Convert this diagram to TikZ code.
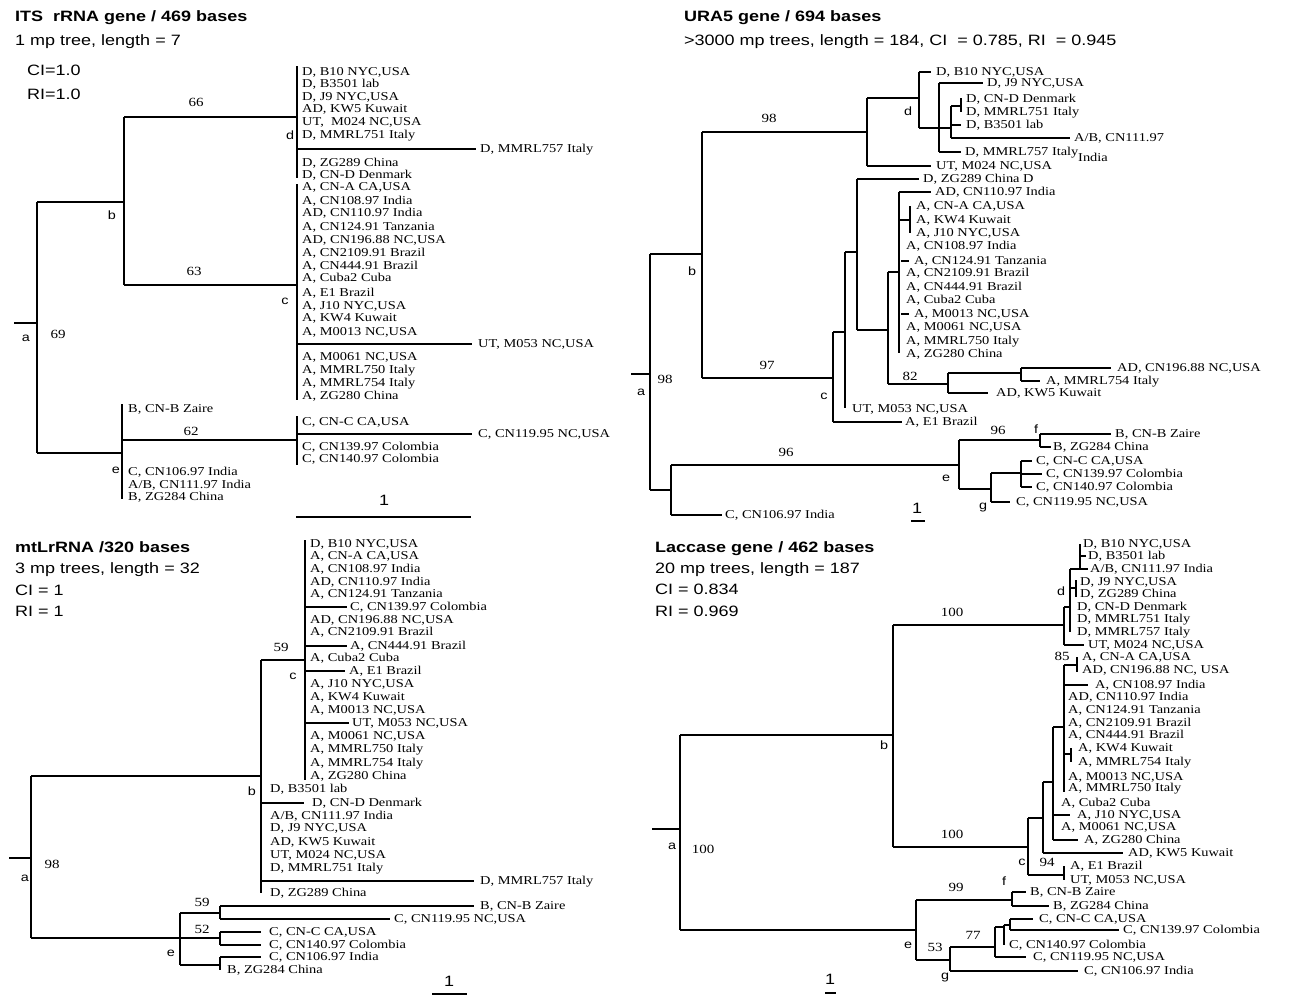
\documentclass[tikz,border=0pt]{standalone}
\usepackage{fontspec}
\setmainfont[FakeStretch=1.2]{Liberation Serif}
\setsansfont[FakeStretch=1.2]{Liberation Sans}
\usetikzlibrary{positioning}

\begin{document}
\begin{tikzpicture}[
    x=1pt, y=-1pt,
    br/.style={line width=1.8pt},
    leaf/.style={
        font=\fontsize{12}{13}\selectfont,
        anchor=west, inner sep=0pt,
        text height=0.66em, text depth=0pt
    },
    bs/.style={
        font=\fontsize{12.5}{13}\selectfont,
        inner sep=0pt, text height=0.66em, text depth=0pt
    },
    nl/.style={
        font=\sffamily\fontsize{12}{13}\selectfont,
        inner sep=0pt, text height=0.5em, text depth=0pt
    },
    head/.style={
        font=\sffamily\bfseries\fontsize{15}{15}\selectfont,
        anchor=west, inner sep=0pt, text height=0.72em, text depth=0pt
    },
    info/.style={
        font=\sffamily\fontsize{15}{15}\selectfont,
        anchor=west, inner sep=0pt, text height=0.72em, text depth=0pt
    }
]
\useasboundingbox (0,0) rectangle (1289,997);

% ============ ITS rRNA (top left) ============
\node[head] (ihead) at (15,18) {ITS\ \ rRNA gene / 469 bases};
\node[info] (iinfo) at (15,42) {1 mp tree, length = 7};
\node[info] (ici) at (27,72) {CI=1.0};
\node[info] (iri) at (27,96) {RI=1.0};

% Branches
\draw[br] (14,323) -- (37,323);
\draw[br] (37,202) -- (37,453);
\draw[br] (37,202) -- (124,202);
\draw[br] (124,117) -- (124,285);
\draw[br] (124,117) -- (297,117);
\draw[br] (297,66) -- (297,178);
\draw[br] (297,149) -- (476,149);
\draw[br] (124,285) -- (297,285);
\draw[br] (297,184) -- (297,400);
\draw[br] (297,344) -- (472,344);
\draw[br] (37,453) -- (122,453);
\draw[br] (122,404) -- (122,499);
\draw[br] (122,440) -- (297,440);
\draw[br] (297,416) -- (297,465);
\draw[br] (297,434) -- (472,434);

% Support values and node letters
\node[bs] (i66) at (196,103) {66};
\node[bs] (i63) at (194,272) {63};
\node[bs] (i62) at (191,432) {62};
\node[bs] (i69) at (58,335) {69};
\node[nl] (ia) at (26,339) {a};
\node[nl] (ib) at (112,217) {b};
\node[nl] (ic) at (285,302) {c};
\node[nl] (id) at (290,137) {d};
\node[nl] (ie) at (116,471) {e};

% Leaves - d group
\node[leaf] (i1) at (302,72) {D, B10 NYC,USA};
\node[leaf] (i2) at (302,84) {D, B3501 lab};
\node[leaf] (i3) at (302,97) {D, J9 NYC,USA};
\node[leaf] (i4) at (302,109) {AD, KW5 Kuwait};
\node[leaf] (i5) at (302,122) {UT,\ \ M024 NC,USA};
\node[leaf] (i6) at (302,135) {D, MMRL751 Italy};
\node[leaf] (i7) at (480,149) {D, MMRL757 Italy};
\node[leaf] (i8) at (302,163) {D, ZG289 China};
\node[leaf] (i9) at (302,175) {D, CN-D Denmark};

% Leaves - c group
\node[leaf] (i10) at (302,187) {A, CN-A CA,USA};
\node[leaf] (i11) at (302,201) {A, CN108.97 India};
\node[leaf] (i12) at (302,213) {AD, CN110.97 India};
\node[leaf] (i13) at (302,227) {A, CN124.91 Tanzania};
\node[leaf] (i14) at (302,240) {AD, CN196.88 NC,USA};
\node[leaf] (i15) at (302,253) {A, CN2109.91 Brazil};
\node[leaf] (i16) at (302,266) {A, CN444.91 Brazil};
\node[leaf] (i17) at (302,278) {A, Cuba2 Cuba};
\node[leaf] (i18) at (302,293) {A, E1 Brazil};
\node[leaf] (i19) at (302,306) {A, J10 NYC,USA};
\node[leaf] (i20) at (302,318) {A, KW4 Kuwait};
\node[leaf] (i21) at (302,332) {A, M0013 NC,USA};
\node[leaf] (i22) at (478,344) {UT, M053 NC,USA};
\node[leaf] (i23) at (302,357) {A, M0061 NC,USA};
\node[leaf] (i24) at (302,370) {A, MMRL750 Italy};
\node[leaf] (i25) at (302,383) {A, MMRL754 Italy};
\node[leaf] (i26) at (302,396) {A, ZG280 China};

% Leaves - e group
\node[leaf] (i27) at (128,409) {B, CN-B Zaire};
\node[leaf] (i28) at (302,422) {C, CN-C CA,USA};
\node[leaf] (i29) at (478,434) {C, CN119.95 NC,USA};
\node[leaf] (i30) at (302,447) {C, CN139.97 Colombia};
\node[leaf] (i31) at (302,459) {C, CN140.97 Colombia};
\node[leaf] (i32) at (128,472) {C, CN106.97 India};
\node[leaf] (i33) at (128,485) {A/B, CN111.97 India};
\node[leaf] (i34) at (128,497) {B, ZG284 China};

% Scale bar
\draw[br] (296,517) -- (471,517);
\node[info] (iscale) at (379,502) {1};

% ============ URA5 (top right) ============
\node[head] (uhead) at (684,18) {URA5 gene / 694 bases};
\node[info] (uinfo) at (684,42) {>3000 mp trees, length = 184, CI\ \ = 0.785, RI\ \ = 0.945};

% Branches - root and b
\draw[br] (631,374) -- (650,374);
\draw[br] (650,254) -- (650,490);
\draw[br] (650,254) -- (702,254);
\draw[br] (702,132) -- (702,378);
\draw[br] (702,132) -- (867,132);
\draw[br] (867,98) -- (867,166);
\draw[br] (867,166) -- (931,166);

% Branches - d clade
\draw[br] (867,98) -- (919,98);
\draw[br] (919,72) -- (919,128);
\draw[br] (919,72) -- (931,72);
\draw[br] (919,128) -- (951,128);
\draw[br] (939,83) -- (939,152);
\draw[br] (939,83) -- (983,83);
\draw[br] (939,152) -- (961,152);
\draw[br] (951,106) -- (951,138);
\draw[br] (951,106) -- (961,106);
\draw[br] (961,98) -- (961,112);
\draw[br] (951,125) -- (961,125);
\draw[br] (951,138) -- (1070,138);

% Branches - c clade
\draw[br] (702,378) -- (833,378);
\draw[br] (833,332) -- (833,422);
\draw[br] (833,422) -- (902,422);
\draw[br] (833,332) -- (845,332);
\draw[br] (845,252) -- (845,408);
\draw[br] (845,252) -- (857,252);
\draw[br] (857,179) -- (857,330);
\draw[br] (857,179) -- (919,179);
\draw[br] (857,330) -- (888,330);
\draw[br] (888,272) -- (888,384);
\draw[br] (888,272) -- (899,272);
\draw[br] (899,192) -- (899,353);
\draw[br] (899,192) -- (931,192);
\draw[br] (899,220) -- (910,220);
\draw[br] (910,206) -- (910,233);
\draw[br] (901,261) -- (909,261);
\draw[br] (901,314) -- (909,314);
\draw[br] (888,384) -- (948,384);
\draw[br] (948,373) -- (948,393);
\draw[br] (948,373) -- (1021,373);
\draw[br] (1021,368) -- (1021,381);
\draw[br] (1021,368) -- (1111,368);
\draw[br] (1021,381) -- (1040,381);
\draw[br] (948,393) -- (988,393);

% Branches - e clade
\draw[br] (650,490) -- (671,490);
\draw[br] (671,465) -- (671,515);
\draw[br] (671,465) -- (959,465);
\draw[br] (671,515) -- (722,515);
\draw[br] (959,440) -- (959,489);
\draw[br] (959,440) -- (1040,440);
\draw[br] (1040,434) -- (1040,447);
\draw[br] (1040,434) -- (1111,434);
\draw[br] (1040,447) -- (1051,447);
\draw[br] (959,489) -- (991,489);
\draw[br] (991,473) -- (991,502);
\draw[br] (991,473) -- (1021,473);
\draw[br] (1021,461) -- (1021,487);
\draw[br] (1021,461) -- (1032,461);
\draw[br] (1021,474) -- (1042,474);
\draw[br] (1021,487) -- (1032,487);
\draw[br] (991,502) -- (1010,502);

% Support values and node letters
\node[bs] (u98a) at (769,119) {98};
\node[bs] (u97) at (767,366) {97};
\node[bs] (u82) at (910,377) {82};
\node[bs] (u98b) at (665,380) {98};
\node[bs] (u96a) at (786,453) {96};
\node[bs] (u96b) at (998,431) {96};
\node[nl] (ua) at (641,393) {a};
\node[nl] (ub) at (692,273) {b};
\node[nl] (uc) at (824,397) {c};
\node[nl] (ud) at (908,113) {d};
\node[nl] (ue) at (946,479) {e};
\node[nl] (uf) at (1036,431) {f};
\node[nl] (ug) at (983,507) {g};

% Leaves
\node[leaf] (u1) at (936,72) {D, B10 NYC,USA};
\node[leaf] (u2) at (987,83) {D, J9 NYC,USA};
\node[leaf] (u3) at (966,99) {D, CN-D Denmark};
\node[leaf] (u4) at (966,112) {D, MMRL751 Italy};
\node[leaf] (u5) at (966,125) {D, B3501 lab};
\node[leaf] (u6) at (1074,138) {A/B, CN111.97};
\node[leaf] (u7) at (965,152) {D, MMRL757 Italy};
\node[leaf] (u8) at (1078,158) {India};
\node[leaf] (u9) at (936,166) {UT, M024 NC,USA};
\node[leaf] (u10) at (923,179) {D, ZG289 China D};
\node[leaf] (u11) at (935,192) {AD, CN110.97 India};
\node[leaf] (u12) at (916,206) {A, CN-A CA,USA};
\node[leaf] (u13) at (916,220) {A, KW4 Kuwait};
\node[leaf] (u14) at (916,233) {A, J10 NYC,USA};
\node[leaf] (u15) at (906,246) {A, CN108.97 India};
\node[leaf] (u16) at (914,261) {A, CN124.91 Tanzania};
\node[leaf] (u17) at (906,273) {A, CN2109.91 Brazil};
\node[leaf] (u18) at (906,287) {A, CN444.91 Brazil};
\node[leaf] (u19) at (906,300) {A, Cuba2 Cuba};
\node[leaf] (u20) at (914,314) {A, M0013 NC,USA};
\node[leaf] (u21) at (906,327) {A, M0061 NC,USA};
\node[leaf] (u22) at (906,341) {A, MMRL750 Italy};
\node[leaf] (u23) at (906,354) {A, ZG280 China};
\node[leaf] (u24) at (1117,368) {AD, CN196.88 NC,USA};
\node[leaf] (u25) at (1046,381) {A, MMRL754 Italy};
\node[leaf] (u26) at (996,393) {AD, KW5 Kuwait};
\node[leaf] (u27) at (852,409) {UT, M053 NC,USA};
\node[leaf] (u28) at (905,422) {A, E1 Brazil};
\node[leaf] (u29) at (1115,434) {B, CN-B Zaire};
\node[leaf] (u30) at (1053,447) {B, ZG284 China};
\node[leaf] (u31) at (1036,461) {C, CN-C CA,USA};
\node[leaf] (u32) at (1046,474) {C, CN139.97 Colombia};
\node[leaf] (u33) at (1036,487) {C, CN140.97 Colombia};
\node[leaf] (u34) at (1016,502) {C, CN119.95 NC,USA};
\node[leaf] (u35) at (725,515) {C, CN106.97 India};

% Scale bar
\draw[br] (911,521) -- (925,521);
\node[info] (uscale) at (912,510) {1};

% ============ mtLrRNA (bottom left) ============
\node[head] (mhead) at (15,549) {mtLrRNA /320 bases};
\node[info] (minfo) at (15,570) {3 mp trees, length = 32};
\node[info] (mci) at (15,592) {CI = 1};
\node[info] (mri) at (15,613) {RI = 1};

% Branches
\draw[br] (9,858) -- (31,858);
\draw[br] (31,776) -- (31,938);
\draw[br] (31,776) -- (261,776);
\draw[br] (261,660) -- (261,893);
\draw[br] (261,660) -- (305,660);
\draw[br] (305,540) -- (305,780);
\draw[br] (305,607) -- (347,607);
\draw[br] (305,646) -- (347,646);
\draw[br] (305,671) -- (345,671);
\draw[br] (305,723) -- (349,723);
\draw[br] (261,803) -- (304,803);
\draw[br] (261,881) -- (474,881);
\draw[br] (31,938) -- (220,938);
\draw[br] (180,913) -- (180,965);
\draw[br] (180,913) -- (220,913);
\draw[br] (220,906) -- (220,919);
\draw[br] (220,906) -- (474,906);
\draw[br] (220,919) -- (390,919);
\draw[br] (220,932) -- (220,945);
\draw[br] (220,932) -- (261,932);
\draw[br] (220,945) -- (261,945);
\draw[br] (180,965) -- (220,965);
\draw[br] (220,957) -- (220,970);
\draw[br] (220,957) -- (261,957);

% Support values and node letters
\node[bs] (m59a) at (281,648) {59};
\node[bs] (m98) at (52,865) {98};
\node[bs] (m59b) at (202,903) {59};
\node[bs] (m52) at (202,930) {52};
\node[nl] (ma) at (25,879) {a};
\node[nl] (mb) at (252,793) {b};
\node[nl] (mc) at (293,677) {c};
\node[nl] (me) at (171,954) {e};

% Leaves - c group
\node[leaf] (m1) at (310,544) {D, B10 NYC,USA};
\node[leaf] (m2) at (310,556) {A, CN-A CA,USA};
\node[leaf] (m3) at (310,569) {A, CN108.97 India};
\node[leaf] (m4) at (310,582) {AD, CN110.97 India};
\node[leaf] (m5) at (310,594) {A, CN124.91 Tanzania};
\node[leaf] (m6) at (350,607) {C, CN139.97 Colombia};
\node[leaf] (m7) at (310,620) {AD, CN196.88 NC,USA};
\node[leaf] (m8) at (310,632) {A, CN2109.91 Brazil};
\node[leaf] (m9) at (350,646) {A, CN444.91 Brazil};
\node[leaf] (m10) at (310,658) {A, Cuba2 Cuba};
\node[leaf] (m11) at (349,671) {A, E1 Brazil};
\node[leaf] (m12) at (310,684) {A, J10 NYC,USA};
\node[leaf] (m13) at (310,697) {A, KW4 Kuwait};
\node[leaf] (m14) at (310,710) {A, M0013 NC,USA};
\node[leaf] (m15) at (352,723) {UT, M053 NC,USA};
\node[leaf] (m16) at (310,736) {A, M0061 NC,USA};
\node[leaf] (m17) at (310,749) {A, MMRL750 Italy};
\node[leaf] (m18) at (310,763) {A, MMRL754 Italy};
\node[leaf] (m19) at (310,776) {A, ZG280 China};

% Leaves - b group
\node[leaf] (m20) at (270,789) {D, B3501 lab};
\node[leaf] (m21) at (312,803) {D, CN-D Denmark};
\node[leaf] (m22) at (270,816) {A/B, CN111.97 India};
\node[leaf] (m23) at (270,828) {D, J9 NYC,USA};
\node[leaf] (m24) at (270,842) {AD, KW5 Kuwait};
\node[leaf] (m25) at (270,855) {UT, M024 NC,USA};
\node[leaf] (m26) at (270,868) {D, MMRL751 Italy};
\node[leaf] (m27) at (480,881) {D, MMRL757 Italy};
\node[leaf] (m28) at (270,893) {D, ZG289 China};

% Leaves - e group
\node[leaf] (m29) at (480,906) {B, CN-B Zaire};
\node[leaf] (m30) at (394,919) {C, CN119.95 NC,USA};
\node[leaf] (m31) at (269,932) {C, CN-C CA,USA};
\node[leaf] (m32) at (269,945) {C, CN140.97 Colombia};
\node[leaf] (m33) at (269,957) {C, CN106.97 India};
\node[leaf] (m34) at (227,970) {B, ZG284 China};

% Scale bar
\draw[br] (432,994) -- (467,994);
\node[info] (mscale) at (444,983) {1};

% ============ Laccase (bottom right) ============
\node[head] (lhead) at (655,549) {Laccase gene / 462 bases};
\node[info] (linfo) at (655,570) {20 mp trees, length = 187};
\node[info] (lci) at (655,591) {CI = 0.834};
\node[info] (lri) at (655,613) {RI = 0.969};

% Branches - root and b
\draw[br] (652,829) -- (680,829);
\draw[br] (680,735) -- (680,930);
\draw[br] (680,735) -- (893,735);
\draw[br] (893,625) -- (893,847);
\draw[br] (893,625) -- (1064,625);

% Branches - d clade
\draw[br] (1064,607) -- (1064,645);
\draw[br] (1064,645) -- (1084,645);
\draw[br] (1064,607) -- (1070,607);
\draw[br] (1070,569) -- (1070,632);
\draw[br] (1080,544) -- (1080,569);
\draw[br] (1070,569) -- (1088,569);
\draw[br] (1080,556) -- (1086,556);
\draw[br] (1070,588) -- (1076,588);
\draw[br] (1076,580) -- (1076,597);

% Branches - c clade
\draw[br] (893,847) -- (1028,847);
\draw[br] (1028,818) -- (1028,875);
\draw[br] (1028,818) -- (1043,818);
\draw[br] (1043,782) -- (1043,853);
\draw[br] (1043,853) -- (1123,853);
\draw[br] (1043,782) -- (1053,782);
\draw[br] (1053,727) -- (1053,840);
\draw[br] (1053,815) -- (1070,815);
\draw[br] (1053,840) -- (1078,840);
\draw[br] (1053,727) -- (1064,727);
\draw[br] (1064,665) -- (1064,792);
\draw[br] (1064,665) -- (1077,665);
\draw[br] (1077,657) -- (1077,672);
\draw[br] (1064,685) -- (1088,685);
\draw[br] (1064,754) -- (1071,754);
\draw[br] (1071,748) -- (1071,762);
\draw[br] (1028,875) -- (1064,875);
\draw[br] (1064,866) -- (1064,880);

% Branches - e clade
\draw[br] (680,930) -- (916,930);
\draw[br] (916,900) -- (916,960);
\draw[br] (916,900) -- (1012,900);
\draw[br] (1012,892) -- (1012,906);
\draw[br] (1012,892) -- (1026,892);
\draw[br] (1012,906) -- (1049,906);
\draw[br] (916,960) -- (950,960);
\draw[br] (950,947) -- (950,971);
\draw[br] (950,947) -- (995,947);
\draw[br] (995,927) -- (995,957);
\draw[br] (995,927) -- (1004,927);
\draw[br] (1004,925) -- (1004,945);
\draw[br] (1004,925) -- (1010,925);
\draw[br] (1010,919) -- (1010,930);
\draw[br] (1010,919) -- (1033,919);
\draw[br] (1010,930) -- (1119,930);
\draw[br] (995,957) -- (1026,957);
\draw[br] (950,971) -- (1078,971);

% Support values and node letters
\node[bs] (l100a) at (952,613) {100};
\node[bs] (l100b) at (952,835) {100};
\node[bs] (l100c) at (703,850) {100};
\node[bs] (l85) at (1062,657) {85};
\node[bs] (l94) at (1047,863) {94};
\node[bs] (l99) at (956,888) {99};
\node[bs] (l77) at (973,936) {77};
\node[bs] (l53) at (935,948) {53};
\node[nl] (la) at (672,847) {a};
\node[nl] (lb) at (884,747) {b};
\node[nl] (lc) at (1022,863) {c};
\node[nl] (ld) at (1061,593) {d};
\node[nl] (le) at (908,946) {e};
\node[nl] (lf) at (1004,883) {f};
\node[nl] (lg) at (945,977) {g};

% Leaves - d group
\node[leaf] (l1) at (1083,544) {D, B10 NYC,USA};
\node[leaf] (l2) at (1088,556) {D, B3501 lab};
\node[leaf] (l3) at (1090,569) {A/B, CN111.97 India};
\node[leaf] (l4) at (1080,582) {D, J9 NYC,USA};
\node[leaf] (l5) at (1080,594) {D, ZG289 China};
\node[leaf] (l6) at (1077,607) {D, CN-D Denmark};
\node[leaf] (l7) at (1077,619) {D, MMRL751 Italy};
\node[leaf] (l8) at (1077,632) {D, MMRL757 Italy};
\node[leaf] (l9) at (1088,645) {UT, M024 NC,USA};

% Leaves - c group
\node[leaf] (l10) at (1082,657) {A, CN-A CA,USA};
\node[leaf] (l11) at (1082,670) {AD, CN196.88 NC, USA};
\node[leaf] (l12) at (1095,685) {A, CN108.97 India};
\node[leaf] (l13) at (1068,697) {AD, CN110.97 India};
\node[leaf] (l14) at (1068,710) {A, CN124.91 Tanzania};
\node[leaf] (l15) at (1068,723) {A, CN2109.91 Brazil};
\node[leaf] (l16) at (1068,735) {A, CN444.91 Brazil};
\node[leaf] (l17) at (1078,748) {A, KW4 Kuwait};
\node[leaf] (l18) at (1078,762) {A, MMRL754 Italy};
\node[leaf] (l19) at (1068,777) {A, M0013 NC,USA};
\node[leaf] (l20) at (1068,788) {A, MMRL750 Italy};
\node[leaf] (l21) at (1061,803) {A, Cuba2 Cuba};
\node[leaf] (l22) at (1077,815) {A, J10 NYC,USA};
\node[leaf] (l23) at (1061,827) {A, M0061 NC,USA};
\node[leaf] (l24) at (1084,840) {A, ZG280 China};
\node[leaf] (l25) at (1128,853) {AD, KW5 Kuwait};
\node[leaf] (l26) at (1070,866) {A, E1 Brazil};
\node[leaf] (l27) at (1070,880) {UT, M053 NC,USA};

% Leaves - e group
\node[leaf] (l28) at (1030,892) {B, CN-B Zaire};
\node[leaf] (l29) at (1053,906) {B, ZG284 China};
\node[leaf] (l30) at (1039,919) {C, CN-C CA,USA};
\node[leaf] (l31) at (1123,930) {C, CN139.97 Colombia};
\node[leaf] (l32) at (1009,945) {C, CN140.97 Colombia};
\node[leaf] (l33) at (1033,957) {C, CN119.95 NC,USA};
\node[leaf] (l34) at (1084,971) {C, CN106.97 India};

% Scale bar
\draw[br] (825,993) -- (836,993);
\node[info] (lscale) at (825,981) {1};

\end{tikzpicture}
\end{document}
